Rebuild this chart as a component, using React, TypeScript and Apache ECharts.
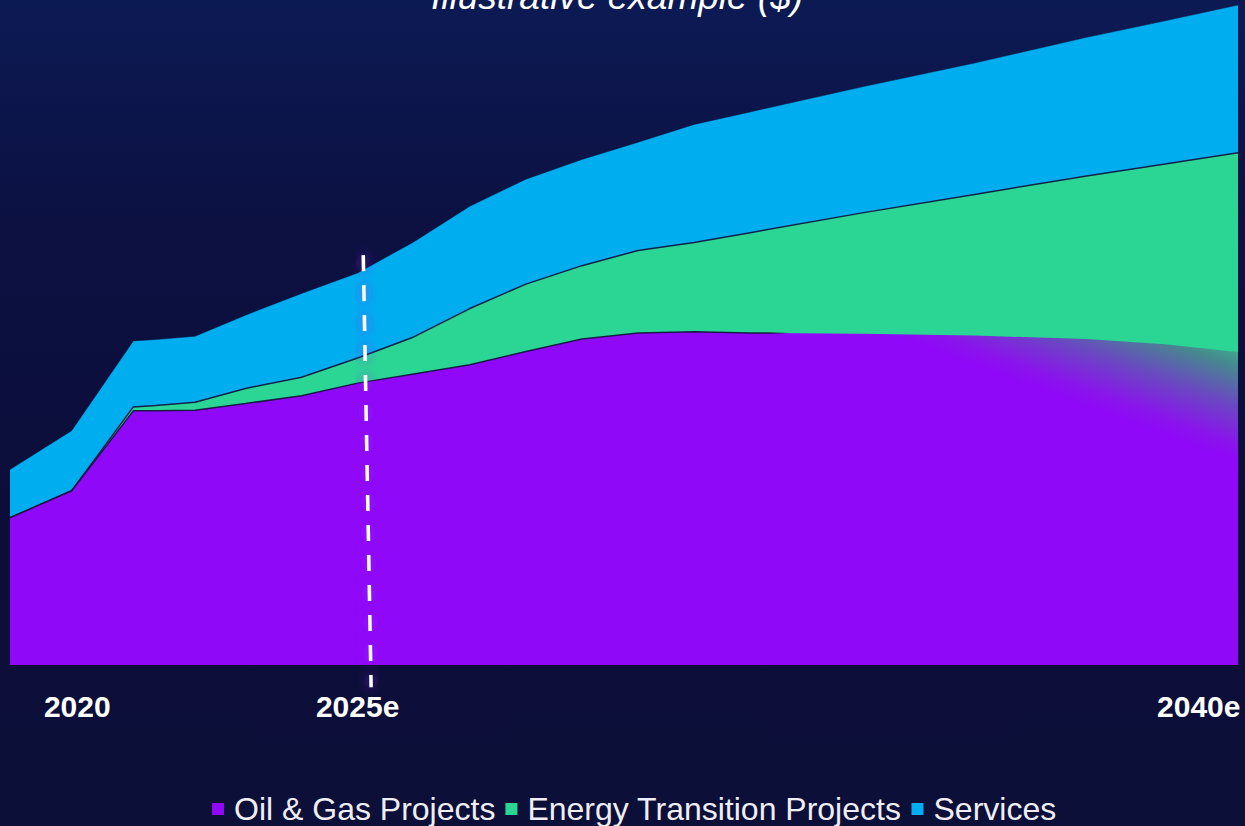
import React, { useEffect, useRef } from "react";
import * as echarts from "echarts";

// x positions (years) of the data points
const years = [2018.8, 2019.9, 2021.0, 2021.4, 2022.1, 2023, 2024, 2025, 2026, 2027, 2028, 2029, 2030, 2031, 2032, 2034, 2036, 2038, 2039.4, 2040.7];
// layer values (illustrative units), stacked bottom to top
const oilGas = [22.3, 26.4, 38.5, 38.5, 38.6, 39.6, 40.8, 42.7, 44.1, 45.5, 47.5, 49.4, 50.3, 50.5, 50.3, 50.2, 49.9, 49.4, 48.6, 47.4];
const energyTransition = [0, 0, 0.6, 0.8, 1.2, 2.3, 2.8, 3.8, 5.6, 8.5, 10.2, 11.1, 12.5, 13.5, 15.2, 18.3, 21.4, 24.7, 27.3, 30.2];
const services = [7.3, 9.1, 10.0, 10.0, 10.0, 11.1, 12.7, 12.9, 14.4, 15.5, 15.9, 16.1, 16.4, 17.9, 18.3, 19.1, 19.9, 21.0, 21.7, 22.4];

const seriesNames = ["Oil & Gas Projects", "Energy Transition Projects", "Services"];
const tickYears = [2020, 2025, 2040];
const tickLabels = ["2020", "2025e", "2040e"];
const forecastYear = 2025;
const titleText = "Illustrative example ($)";

const PURPLE = "#8f08f8";
const GREEN = "#2bd694";
const BLUE = "#00aeef";
const FONT = "'Liberation Sans', Arial, sans-serif";

export default function App() {
  const ref = useRef<HTMLDivElement>(null);

  useEffect(() => {
    if (!ref.current) return;
    const chart = echarts.init(ref.current, null, { renderer: "svg" });
    // cumulative stacking (bottom -> top)
    const layers = [oilGas, energyTransition, services];
    const cumulative: number[][] = [];
    layers.forEach((arr, li) => {
      cumulative.push(arr.map((v, i) => +(v + (li > 0 ? cumulative[li - 1][i] : 0)).toFixed(2)));
    });
    const pair = (arr: number[]) => years.map((y, i) => [y, arr[i]]);
    const edge = new echarts.graphic.LinearGradient(770, 0, 790, 0, [
      { offset: 0, color: "rgba(20,16,60,0.9)" },
      { offset: 1, color: "rgba(20,16,60,0)" },
    ], true);
    const fade = new echarts.graphic.LinearGradient(1238, 462, 1274, 364, [
      { offset: 0, color: PURPLE },
      { offset: 0.15, color: "#8a14ec" },
      { offset: 0.5, color: "#6a48c2" },
      { offset: 0.85, color: "#47888f" },
      { offset: 1, color: "#3fa890" },
    ], true);

    chart.setOption({
      animation: false,
      backgroundColor: "transparent",
      color: [PURPLE, GREEN, BLUE],
      grid: { left: 10, right: 7, top: 5, bottom: 138, containLabel: false },
      xAxis: {
        type: "value",
        min: 2018.8,
        max: 2040.7,
        axisLine: { show: false, onZero: false },
        axisTick: { show: false },
        splitLine: { show: false },
        axisLabel: {
          customValues: tickYears,
          formatter: (v: number) => {
            const i = tickYears.indexOf(Math.round(v));
            return i >= 0 ? tickLabels[i] : "";
          },
          color: "#ffffff",
          fontSize: 30,
          fontWeight: "bold",
          fontFamily: FONT,
          margin: 3,
        },
      },
      yAxis: {
        type: "value",
        min: -3.5,
        max: 100,
        show: false,
        splitLine: { show: false },
      },
      legend: {
        data: seriesNames,
        left: 207,
        top: 788,
        icon: "rect",
        itemWidth: 12,
        itemHeight: 12,
        itemGap: 10,
        textStyle: { color: "#eeeef4", fontSize: 32, fontFamily: FONT, padding: [0, 0, 0, 5] },
      },
      graphic: [
        {
          type: "text",
          style: {
            text: titleText,
            x: 617,
            y: 15,
            textAlign: "center",
            textVerticalAlign: "bottom",
            fill: "#ffffff",
            fontSize: 37,
            fontStyle: "italic",
            fontFamily: FONT,
          },
          silent: true,
        },
      ],
      series: [
        {
          name: seriesNames[0],
          type: "line",
          data: pair(cumulative[0]),
          symbol: "none",
          clip: false,
          itemStyle: { color: PURPLE },
          lineStyle: { width: 1.5, color: edge },
          areaStyle: { color: fade, opacity: 1 },
          z: 4,
          markLine: {
            silent: true,
            symbol: "none",
            label: { show: false },
            lineStyle: {
              color: "#ffffff",
              width: 3.5,
              type: [16, 14],
              shadowBlur: 12,
              shadowColor: "rgba(150,40,255,0.95)",
            },
            data: [[
              { coord: [forecastYear + 0.1, 62.1] },
              { coord: [forecastYear + 0.24, -3.4] },
            ]],
            z: 10,
          },
        },
        {
          name: seriesNames[1],
          type: "line",
          data: pair(cumulative[1]),
          symbol: "none",
          itemStyle: { color: GREEN },
          lineStyle: { width: 1.5, color: "rgba(20,16,60,0.9)" },
          areaStyle: { color: GREEN, opacity: 1 },
          z: 3,
        },
        {
          name: seriesNames[2],
          type: "line",
          data: pair(cumulative[2]),
          symbol: "none",
          itemStyle: { color: BLUE },
          lineStyle: { width: 0.8, color: "rgba(20,16,60,0.6)" },
          areaStyle: { color: BLUE, opacity: 1 },
          z: 2,
        },
      ],
    });
    return () => chart.dispose();
  }, []);

  return (
    <div
      ref={ref}
      style={{
        position: "absolute",
        left: 0,
        top: 0,
        width: 1245,
        height: 826,
        background: "linear-gradient(to bottom, #0c1a54 0px, #0c1142 220px, #0c0e3a 500px, #0c0f38 826px)",
      }}
    />
  );
}
